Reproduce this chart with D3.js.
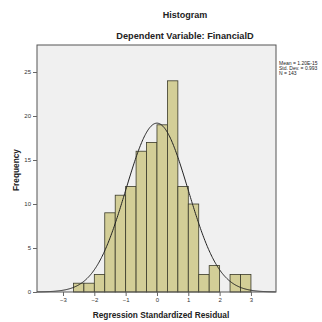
<!DOCTYPE html>
<html>
<head>
<meta charset="utf-8">
<script src="https://cdn.jsdelivr.net/npm/d3@7"></script>
<style>
  body { margin: 0; background: #fff; }
  svg { display: block; font-family: "Liberation Sans", Arial, sans-serif; }
</style>
</head>
<body>
<div id="chart"></div>
<script>
// histogram bins (standardized residual), lower / upper edges
const binEdges = [-2.667, -2.333, -2.0, -1.667, -1.333, -1.0, -0.667, -0.333, 0.0,
  0.333, 0.667, 1.0, 1.333, 1.667, 2.0, 2.333, 2.667, 3.0];
const counts = [1, 1, 2, 9, 11, 12, 16, 17, 19, 24, 12, 10, 2, 3, 0, 2, 2];
const xTicks = [-3, -2, -1, 0, 1, 2, 3];
const yTicks = [0, 5, 10, 15, 20, 25];
const legendLines = ['Mean = 1.20E-15', 'Std. Dev. = 0.993', 'N = 143'];
const meanVal = 0;
const sdVal = 0.993;
const nVal = 143;

const W = 322, H = 322;
const margin = { top: 45, right: 46, bottom: 30, left: 37 };
const width = W - margin.left - margin.right;
const height = H - margin.top - margin.bottom;

const svg = d3.select('#chart').append('svg')
  .attr('width', W)
  .attr('height', H);

const x = d3.scaleLinear().domain([-3.83, 3.8]).range([margin.left, margin.left + width]);
const y = d3.scaleLinear().domain([0, 28.07]).range([margin.top + height, margin.top]);

// plot background
svg.append('rect')
  .attr('x', margin.left)
  .attr('y', margin.top)
  .attr('width', width)
  .attr('height', height)
  .attr('fill', '#f0f0f0');

// bars
const bins = counts.map((c, i) => ({ lo: binEdges[i], hi: binEdges[i + 1], c }));
svg.append('g').selectAll('rect')
  .data(bins.filter(d => d.c > 0))
  .enter().append('rect')
  .attr('x', d => x(d.lo))
  .attr('y', d => y(d.c))
  .attr('width', d => x(d.hi) - x(d.lo))
  .attr('height', d => y(0) - y(d.c))
  .attr('fill', '#d3ce97')
  .attr('stroke', '#3a3a2a')
  .attr('stroke-width', 0.8);

// normal curve
const binW = binEdges[1] - binEdges[0];
const curve = d3.range(-3.83, 3.81, 0.02).map(v => ({
  v,
  f: nVal * binW * Math.exp(-0.5 * Math.pow((v - meanVal) / sdVal, 2)) / (sdVal * Math.sqrt(2 * Math.PI))
}));
svg.append('path')
  .datum(curve)
  .attr('fill', 'none')
  .attr('stroke', '#222')
  .attr('stroke-width', 1)
  .attr('d', d3.line().x(d => x(d.v)).y(d => y(d.f)));

// frame
svg.append('rect')
  .attr('x', margin.left)
  .attr('y', margin.top)
  .attr('width', width)
  .attr('height', height)
  .attr('fill', 'none')
  .attr('stroke', '#555')
  .attr('stroke-width', 1);

// axes
const xAxis = svg.append('g')
  .attr('transform', `translate(0, ${margin.top + height})`)
  .call(d3.axisBottom(x).tickValues(xTicks).tickSize(4).tickPadding(2).tickFormat(d3.format('d')));
const yAxis = svg.append('g')
  .attr('transform', `translate(${margin.left}, 0)`)
  .call(d3.axisLeft(y).tickValues(yTicks).tickSize(4).tickPadding(2));
[xAxis, yAxis].forEach(a => {
  a.select('.domain').remove();
  a.selectAll('line').attr('stroke', '#666');
  a.selectAll('text').attr('font-size', 6).attr('fill', '#333');
});

// titles
svg.append('text')
  .attr('x', 185).attr('y', 18)
  .attr('text-anchor', 'middle')
  .attr('font-size', 9).attr('font-weight', 'bold').attr('fill', '#222')
  .text('Histogram');
svg.append('text')
  .attr('x', 185).attr('y', 39)
  .attr('text-anchor', 'middle')
  .attr('font-size', 9.2).attr('font-weight', 'bold').attr('fill', '#222')
  .text('Dependent Variable: FinancialD');

// axis labels
svg.append('text')
  .attr('x', 161).attr('y', 318)
  .attr('text-anchor', 'middle')
  .attr('font-size', 8.3).attr('font-weight', 'bold').attr('fill', '#222')
  .text('Regression Standardized Residual');
svg.append('text')
  .attr('transform', 'rotate(-90)')
  .attr('x', -170).attr('y', 19)
  .attr('text-anchor', 'middle')
  .attr('font-size', 8.3).attr('font-weight', 'bold').attr('fill', '#222')
  .text('Frequency');

// stats legend
svg.append('g').selectAll('text')
  .data(legendLines)
  .enter().append('text')
  .attr('x', 279)
  .attr('y', (d, i) => 65 + i * 5)
  .attr('font-size', 5)
  .attr('fill', '#222')
  .text(d => d);
</script>
</body>
</html>
